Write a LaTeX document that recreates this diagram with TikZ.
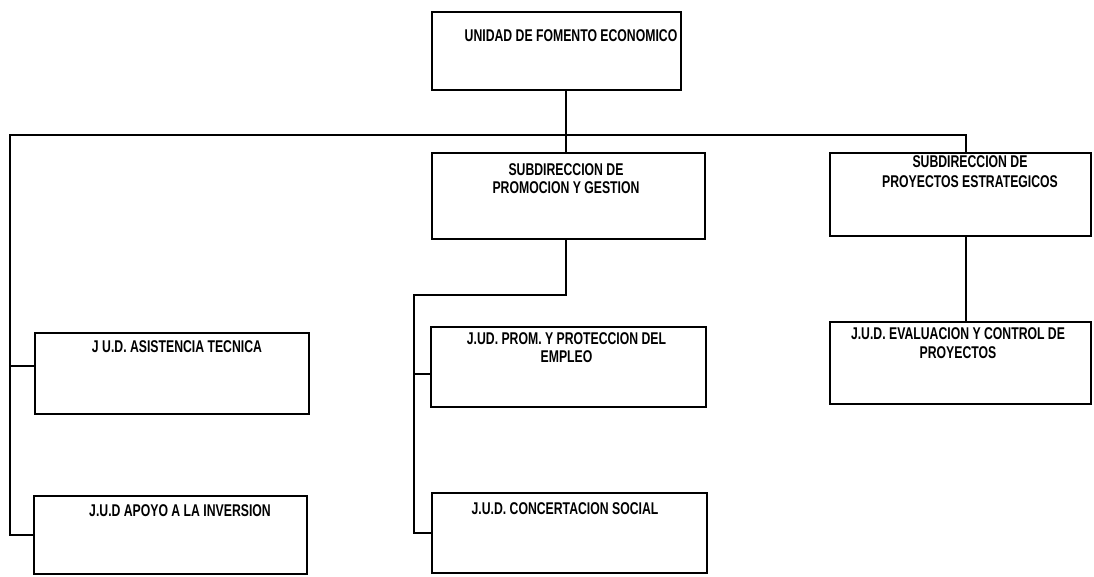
\documentclass[tikz,border=0pt]{standalone}
\usepackage{fontspec}
\setmainfont{Liberation Sans}[FakeStretch=0.72]
\usetikzlibrary{positioning}

\begin{document}
\begin{tikzpicture}[
    x=1pt, y=-1pt,
    unit/.style={rectangle, draw=black, line width=2.4pt, inner sep=0pt},
    caption/.style={inner sep=0pt, align=center, font=\bfseries\fontsize{17pt}{18pt}\selectfont},
    link/.style={line width=2.2pt, line cap=rect},
]

    \useasboundingbox [fill=white] (0,0) rectangle (1094,576);

    % unidad
    \node (unidad) [unit, minimum width=249pt, minimum height=78pt] at (556.5,51) {};
    \node (unidad_txt) [caption, below=19pt of unidad.north, xshift=14.5pt] {UNIDAD DE FOMENTO ECONOMICO};

    % subdirecciones
    \node (promocion) [unit, minimum width=273pt, minimum height=86pt] at (568.5,196) {};
    \node (promocion_txt) [caption, below=12pt of promocion.north, xshift=-2.5pt] {SUBDIRECCION DE\\PROMOCION Y GESTION};

    \node (proyectos) [unit, minimum width=261pt, minimum height=83pt] at (960.5,194.5) {};
    \node (proyectos_txt) [caption, below=4pt of proyectos.north, xshift=9.5pt] {SUBDIRECCION DE\\[2pt]PROYECTOS ESTRATEGICOS};

    % jefaturas
    \node (asistencia) [unit, minimum width=274pt, minimum height=81pt] at (172,373.5) {};
    \node (asistencia_txt) [caption, below=9pt of asistencia.north, xshift=5pt] {J U.D. ASISTENCIA TECNICA};

    \node (apoyo) [unit, minimum width=273pt, minimum height=78pt] at (170.5,535) {};
    \node (apoyo_txt) [caption, below=10pt of apoyo.north, xshift=9.5pt] {J.U.D APOYO A LA INVERSION};

    \node (proteccion) [unit, minimum width=275pt, minimum height=80pt] at (568.5,367) {};
    \node (proteccion_txt) [caption, below=7pt of proteccion.north, xshift=-2pt] {J.UD. PROM. Y PROTECCION DEL\\EMPLEO};

    \node (concertacion) [unit, minimum width=275pt, minimum height=80pt] at (569.5,533) {};
    \node (concertacion_txt) [caption, below=11pt of concertacion.north, xshift=-4.5pt] {J.U.D. CONCERTACION SOCIAL};

    \node (evaluacion) [unit, minimum width=261pt, minimum height=82pt] at (960.5,363) {};
    \node (evaluacion_txt) [caption, below=7pt of evaluacion.north, xshift=-2.5pt] {J.U.D. EVALUACION Y CONTROL DE\\[1pt]PROYECTOS};

    % connectors
    \coordinate (bus) at (566,135);
    \coordinate (busL) at (10,135);
    \coordinate (busR) at (966,135);
    \coordinate (fork) at (414,295);
    \coordinate (tapA) at (10,366);
    \coordinate (tapP) at (414,374);

    \draw [link] (bus |- unidad.south) -- (bus |- promocion.north);
    \draw [link] (busL) -- (busR) -- (busR |- proyectos.north);
    \draw [link] (busL) |- (apoyo.west);
    \draw [link] (tapA) -- (tapA -| asistencia.west);
    \draw [link] (bus |- promocion.south) |- (fork) |- (concertacion.west);
    \draw [link] (tapP) -- (tapP -| proteccion.west);
    \draw [link] (busR |- proyectos.south) -- (busR |- evaluacion.north);

\end{tikzpicture}
\end{document}
